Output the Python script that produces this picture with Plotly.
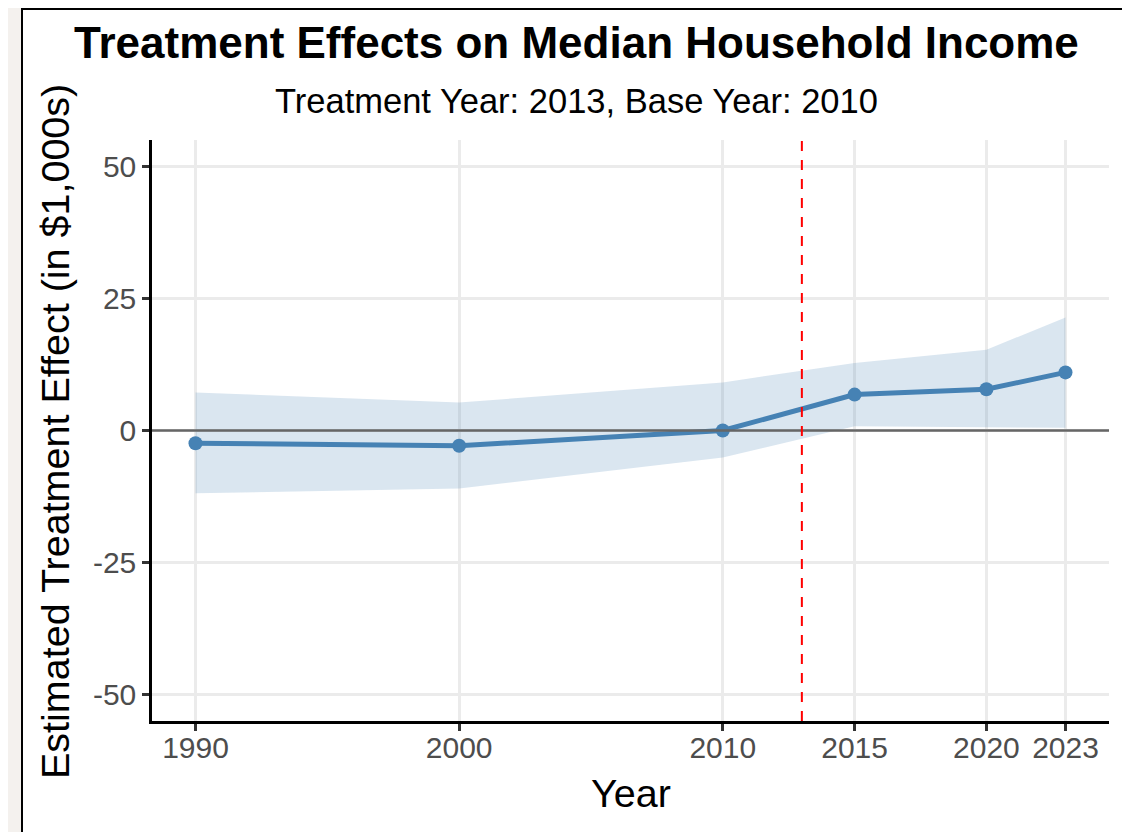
import plotly.graph_objects as go

years = [1990, 2000, 2010, 2015, 2020, 2023]
estimate = [-2.4, -2.9, 0.0, 6.8, 7.8, 11.0]
ci_upper = [7.2, 5.3, 9.1, 12.8, 15.3, 21.4]
ci_lower = [-11.9, -11.0, -5.1, 0.8, 0.6, 0.5]
treatment_year = 2013
y_ticks = [-50, -25, 0, 25, 50]
y_tick_labels = ["-50", "-25", "0", "25", "50"]
x_ticks = [1990, 2000, 2010, 2015, 2020, 2023]
x_tick_labels = ["1990", "2000", "2010", "2015", "2020", "2023"]

OFF = 8  # page body margin
W, H = 1130 - OFF, 832 - OFF
L, T = 152 - OFF, 140 - OFF
PR, PB = 1109 - OFF, 721 - OFF
R, B = W - PR, H - PB
pw, ph = PR - L, PB - T

def px_x(x):
    return (x - OFF - L) / pw

def px_y(y):
    return (PB - (y - OFF)) / ph

fig = go.Figure()

fig.add_trace(go.Scatter(x=years + years[::-1], y=ci_upper + ci_lower[::-1],
                         fill="toself", fillcolor="rgba(70,130,180,0.2)",
                         line=dict(width=0), mode="lines", hoverinfo="skip",
                         showlegend=False))
fig.add_hline(y=0, line=dict(color="#666666", width=2.5))
fig.add_vline(x=treatment_year, line=dict(color="#ff0000", width=2, dash="10px,9px"))
fig.add_trace(go.Scatter(x=years, y=estimate, mode="lines+markers",
                         line=dict(color="#4682B4", width=5),
                         marker=dict(color="#4682B4", size=14),
                         showlegend=False))

# white panel with black border
fig.add_shape(type="rect", xref="paper", yref="paper",
              x0=px_x(22), x1=px_x(1127), y0=px_y(860), y1=px_y(OFF + 1),
              fillcolor="white", line=dict(color="black", width=2), layer="below")

common = dict(xref="paper", yref="paper", showarrow=False, xanchor="center", yanchor="middle")
fig.add_annotation(text="<b>Treatment Effects on Median Household Income</b>",
                   x=px_x(576), y=px_y(43), font=dict(size=44, color="black"), **common)
fig.add_annotation(text="Treatment Year: 2013, Base Year: 2010",
                   x=px_x(576), y=px_y(101), font=dict(size=34.5, color="black"), **common)
fig.add_annotation(text="Estimated Treatment Effect (in $1,000s)",
                   x=px_x(55), y=px_y(432), textangle=-90,
                   font=dict(size=39.5, color="black"), **common)
fig.add_annotation(text="Year",
                   x=px_x(631), y=px_y(793), font=dict(size=39.5, color="black"), **common)

fig.update_layout(
    width=W, height=H,
    margin=dict(l=L, r=R, t=T, b=B),
    paper_bgcolor="#f4f1ee",
    plot_bgcolor="white",
    font=dict(family="Liberation Sans, Arial, sans-serif"),
    showlegend=False,
    xaxis=dict(range=[1988.35, 2024.65], tickvals=x_ticks, ticktext=x_tick_labels,
               showgrid=True, gridcolor="#ebebeb", gridwidth=2.5, zeroline=False,
               showline=True, linecolor="black", linewidth=2.5,
               ticks="outside", ticklen=7, tickwidth=2.5, tickcolor="#333333",
               ticklabelstandoff=-9,
               tickfont=dict(size=30, color="#4d4d4d")),
    yaxis=dict(range=[-55, 55], tickvals=y_ticks, ticktext=y_tick_labels,
               showgrid=True, gridcolor="#ebebeb", gridwidth=2.5, zeroline=False,
               showline=True, linecolor="black", linewidth=2.5,
               ticks="outside", ticklen=7, tickwidth=2.5, tickcolor="#333333",
               tickfont=dict(size=30, color="#4d4d4d")),
)

fig.write_html("out.html")
